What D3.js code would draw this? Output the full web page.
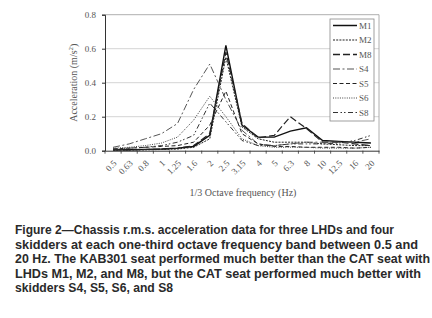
<!DOCTYPE html>
<html lang="en">
<head>
<meta charset="utf-8">
<title>Chassis r.m.s. acceleration</title>
<script src="https://cdn.jsdelivr.net/npm/d3@7"></script>
<style>
  body { margin: 0; background: #fff; }
  .tick text { font-family: "Liberation Serif", serif; fill: #555; }
</style>
</head>
<body>
<script>
// categories (1/3 octave bands, Hz)
const bands = ["0.5","0.63","0.8","1","1.25","1.6","2","2.5","3.15","4","5","6.3","8","10","12.5","16","20"];

// series values (m/s2)
const m1 = [0.005,0.006,0.008,0.010,0.015,0.025,0.09,0.62,0.15,0.08,0.08,0.115,0.135,0.06,0.055,0.05,0.045];
const m2 = [0.003,0.004,0.005,0.007,0.010,0.020,0.07,0.55,0.14,0.07,0.05,0.05,0.05,0.04,0.035,0.03,0.03];
const m8 = [0.004,0.005,0.007,0.009,0.014,0.030,0.10,0.58,0.16,0.075,0.09,0.20,0.13,0.05,0.05,0.04,0.03];
const s4 = [0.02,0.04,0.07,0.10,0.16,0.36,0.51,0.30,0.12,0.04,0.03,0.04,0.05,0.05,0.05,0.05,0.07];
const s5 = [0.01,0.015,0.02,0.025,0.03,0.05,0.15,0.35,0.10,0.04,0.025,0.025,0.02,0.02,0.02,0.015,0.02];
const s6 = [0.015,0.02,0.03,0.045,0.08,0.18,0.32,0.20,0.07,0.03,0.02,0.02,0.02,0.015,0.015,0.015,0.02];
const s8 = [0.01,0.015,0.02,0.03,0.05,0.09,0.28,0.17,0.06,0.03,0.03,0.04,0.04,0.04,0.045,0.06,0.09];

const seriesNames = ["M1","M2","M8","S4","S5","S6","S8"];
const seriesVals = [m1, m2, m8, s4, s5, s6, s8];
const dashes = [null, "2,1.2", "7,3", "7,2.5,2,2.5", "4,2.5", "1,1.3", "5,2.5,1.5,2,1.5,2.5"];
const colors = ["#111", "#222", "#222", "#555", "#222", "#444", "#333"];
const widths = [1.4, 1, 1.2, 1, 1, 1, 1];

const yTicks = [0, 0.2, 0.4, 0.6, 0.8];

const captionLines = [
  "Figure 2\u2014Chassis r.m.s. acceleration data for three LHDs and four",
  "skidders at each one-third octave frequency band between 0.5 and",
  "20 Hz. The KAB301 seat performed much better than the CAT seat with",
  "LHDs M1, M2, and M8, but the CAT seat performed much better with",
  "skidders S4, S5, S6, and S8"
];
const captionWidths = [379, 403, 415, 406, 158];

const W = 432, H = 318;
const pLeft = 105, pRight = 379, pTop = 14.7, pBottom = 150.7;

const svg = d3.select("body").append("svg")
  .attr("width", W).attr("height", H);

const x = d3.scaleBand().domain(bands).range([pLeft, pRight]);
const y = d3.scaleLinear().domain([0, 0.8]).range([pBottom, pTop]);

// gridlines
svg.append("g").selectAll("line")
  .data(yTicks.slice(1))
  .enter().append("line")
  .attr("x1", pLeft).attr("x2", pRight)
  .attr("y1", d => y(d)).attr("y2", d => y(d))
  .style("stroke", d => d === 0.8 ? "#9a9a9a" : "#c8c8c8").style("stroke-width", 0.8);

// plot border (right side)
svg.append("line")
  .attr("x1", pRight).attr("x2", pRight).attr("y1", pTop).attr("y2", pBottom)
  .style("stroke", "#9a9a9a").style("stroke-width", 0.8);

// y axis
const yAxis = svg.append("g")
  .attr("transform", `translate(${pLeft},0)`)
  .call(d3.axisLeft(y).tickValues(yTicks).tickFormat(d3.format(".1f")).tickSize(3).tickPadding(6));
yAxis.selectAll("text").style("font-size", "9px");
yAxis.select(".domain").style("stroke", "#333");
yAxis.selectAll(".tick line").style("stroke", "#333");

// x axis: ticks between categories
const xAxis = svg.append("g")
  .attr("transform", `translate(0,${pBottom})`)
  .call(d3.axisBottom(x).tickSize(0).tickPadding(0));
xAxis.select(".domain").style("stroke", "#333");
xAxis.selectAll(".tick text")
  .style("font-size", "9px")
  .attr("text-anchor", "end")
  .attr("dy", "0.35em")
  .attr("transform", "translate(2,11) rotate(-45)");

svg.append("g").selectAll("line")
  .data(bands.concat(["end"]))
  .enter().append("line")
  .attr("x1", (d, i) => pLeft + i * x.step())
  .attr("x2", (d, i) => pLeft + i * x.step())
  .attr("y1", pBottom).attr("y2", pBottom + 3)
  .style("stroke", "#333").style("stroke-width", 0.8);

// axis titles
svg.append("text")
  .attr("transform", `translate(77,${(pTop + pBottom) / 2}) rotate(-90)`)
  .attr("text-anchor", "middle")
  .style("font-family", "Liberation Serif, serif").style("font-size", "10px").style("fill", "#555")
  .html("Acceleration (m/s<tspan dy='-4' font-size='7'>2</tspan><tspan dy='4'>)</tspan>");

svg.append("text")
  .attr("x", 243).attr("y", 196)
  .attr("text-anchor", "middle")
  .style("font-family", "Liberation Serif, serif").style("font-size", "10px").style("fill", "#555")
  .text("1/3 Octave frequency (Hz)");

// lines
const line = d3.line()
  .x((d, i) => x(bands[i]) + x.bandwidth() / 2)
  .y(d => y(d));

svg.append("g").selectAll("path")
  .data(seriesVals)
  .enter().append("path")
  .attr("d", line)
  .style("fill", "none")
  .style("stroke", (d, i) => colors[i])
  .style("stroke-width", (d, i) => widths[i])
  .style("stroke-dasharray", (d, i) => dashes[i]);

// legend
const lg = svg.append("g");
lg.append("rect")
  .attr("x", 330).attr("y", 19).attr("width", 44).attr("height", 102)
  .style("fill", "#fff").style("stroke", "#888").style("stroke-width", 0.8);
const items = lg.selectAll("g.item")
  .data(seriesNames)
  .enter().append("g")
  .attr("transform", (d, i) => `translate(0,${25.5 + i * 14.5})`);
items.append("line")
  .attr("x1", 333).attr("x2", 357).attr("y1", 0).attr("y2", 0)
  .style("stroke", (d, i) => colors[i])
  .style("stroke-width", (d, i) => widths[i] + 0.1)
  .style("stroke-dasharray", (d, i) => dashes[i]);
items.append("text")
  .attr("x", 359).attr("y", 3)
  .style("font-family", "Liberation Serif, serif").style("font-size", "9px").style("fill", "#555")
  .text(d => d);

// caption
svg.append("g").selectAll("text")
  .data(captionLines)
  .enter().append("text")
  .attr("x", 15)
  .attr("y", (d, i) => 234 + i * 14.6)
  .attr("textLength", (d, i) => captionWidths[i])
  .attr("lengthAdjust", "spacingAndGlyphs")
  .style("font-family", "Liberation Sans, Arial, sans-serif")
  .style("font-weight", "bold")
  .style("font-size", "12px")
  .style("fill", "#2a2a2a")
  .text(d => d);
</script>
</body>
</html>
